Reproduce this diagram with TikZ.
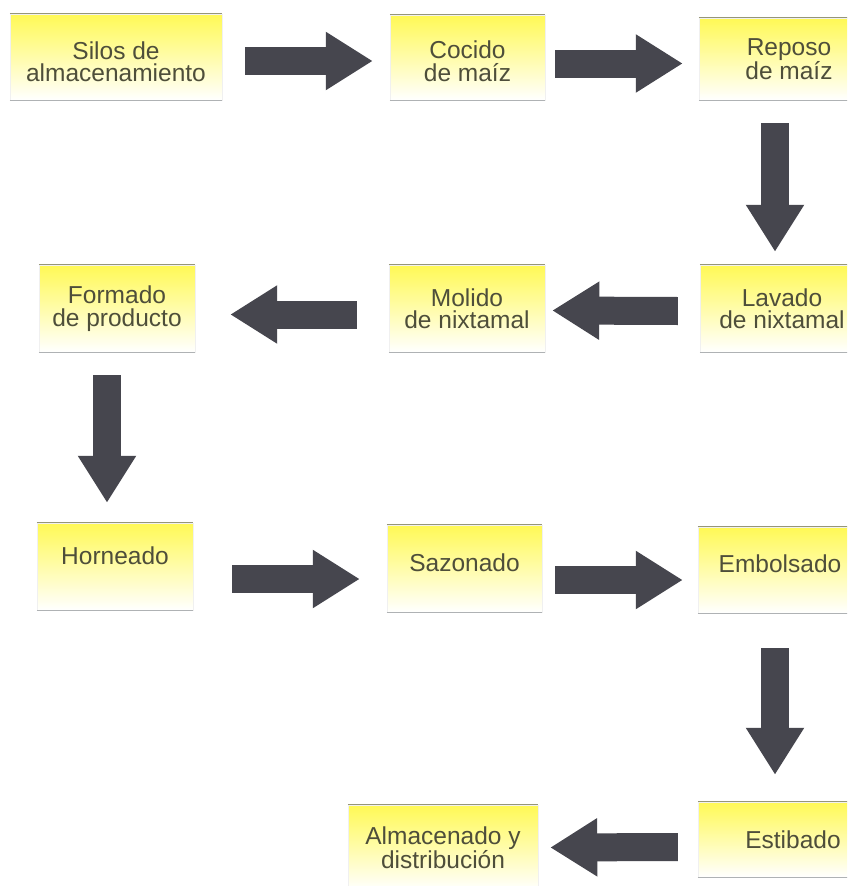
\documentclass[tikz,border=0pt]{standalone}
\usepackage{fontspec}
\setmainfont{Liberation Sans}
\usetikzlibrary{arrows.meta}
\definecolor{boxyellow}{RGB}{255,249,85}
\definecolor{arrowgray}{RGB}{70,70,78}
\definecolor{txtcol}{RGB}{78,78,58}
\definecolor{topline}{RGB}{150,150,120}
\definecolor{botline}{RGB}{175,178,180}
\begin{document}
\begin{tikzpicture}[x=1pt,y=-1pt,
  stage/.style={rectangle, inner sep=0pt, align=center,
    font=\fontsize{24.5}{22.5}\selectfont, text=txtcol,
    top color=boxyellow, bottom color=white, middle color=boxyellow!50!white,
    draw=gray!12, line width=0.4pt},
  flow/.style={draw=arrowgray, line width=28pt,
    -{Triangle[length=47pt,width=55pt]}},
  topedge/.style={draw=topline, line width=0.9pt},
  botedge/.style={draw=botline, line width=0.9pt}]
\useasboundingbox (0,0) rectangle (847,886);
\clip (0,0) rectangle (847,886);
\fill[white] (0,0) rectangle (847,886);

% row 1
\node[stage, minimum width=212pt, minimum height=86pt, text height=50pt] (silos) at (116,57) {Silos de\\almacenamiento};
\node[stage, minimum width=155pt, minimum height=85pt, text height=48pt] (cocido) at (467.5,57.5) {Cocido\\de maíz};
\node[stage, minimum width=180pt, minimum height=82pt] (reposo) at (789,59) {Reposo\\de maíz};
% row 2
\node[stage, minimum width=156pt, minimum height=87pt] (formado) at (117,308.5) {Formado\\de producto};
\node[stage, minimum width=156pt, minimum height=87pt] (molido) at (467,308.5) {Molido\\de nixtamal};
\node[stage, minimum width=164pt, minimum height=87pt] (lavado) at (782,308.5) {Lavado\\de nixtamal};
% row 3
\node[stage, minimum width=156pt, minimum height=87pt, text depth=22pt] (horneado) at (115,566.5) {Horneado};
\node[stage, minimum width=155pt, minimum height=87pt, text depth=12pt] (sazonado) at (464.5,568.5) {Sazonado};
\node[stage, minimum width=164pt, minimum height=86pt, text depth=12pt] (embolsado) at (780,570) {Embolsado};
% row 4
\node[stage, minimum width=190pt, minimum height=85pt] (almacenado) at (443,847.5) {Almacenado y\\distribución};
\node[stage, minimum width=190pt, minimum height=75pt] (estibado) at (793,839.5) {Estibado};

\foreach \n in {silos,cocido,reposo,formado,molido,lavado,horneado,sazonado,embolsado,almacenado,estibado}{
  \draw[topedge] (\n.north west) -- (\n.north east);
  \draw[botedge] (\n.south west) -- (\n.south east);
}

% connectors
\draw[flow] ([xshift=23pt,yshift=-4pt]silos.east) -- ([xshift=-17pt,yshift=-3.5pt]cocido.west);
\draw[flow] ([xshift=10pt,yshift=-6pt]cocido.east) -- ([xshift=-16pt,yshift=-4.5pt]reposo.west);
\draw[flow] ([xshift=-14pt,yshift=-23pt]reposo.south) -- ([xshift=-7pt,yshift=13pt]lavado.north);
\draw[flow] ([xshift=-22pt,yshift=-2.5pt]lavado.west) -- ([xshift=7pt,yshift=-2pt]molido.east);
\draw[flow] ([xshift=-32pt,yshift=-6pt]molido.west) -- ([xshift=35pt,yshift=-6pt]formado.east);
\draw[flow] ([xshift=-10pt,yshift=-23pt]formado.south) -- ([xshift=-8pt,yshift=20pt]horneado.north);
\draw[flow] ([xshift=39pt,yshift=-12.5pt]horneado.east) -- ([xshift=-27pt,yshift=-10.5pt]sazonado.west);
\draw[flow] ([xshift=13pt,yshift=-11.5pt]sazonado.east) -- ([xshift=-15pt,yshift=-10pt]embolsado.west);
\draw[flow] ([xshift=-5pt,yshift=-35pt]embolsado.south) -- ([xshift=-18pt,yshift=27pt]estibado.north);
\draw[flow] ([xshift=-20pt,yshift=-7.5pt]estibado.west) -- ([xshift=12pt,yshift=0pt]almacenado.east);
\end{tikzpicture}
\end{document}
